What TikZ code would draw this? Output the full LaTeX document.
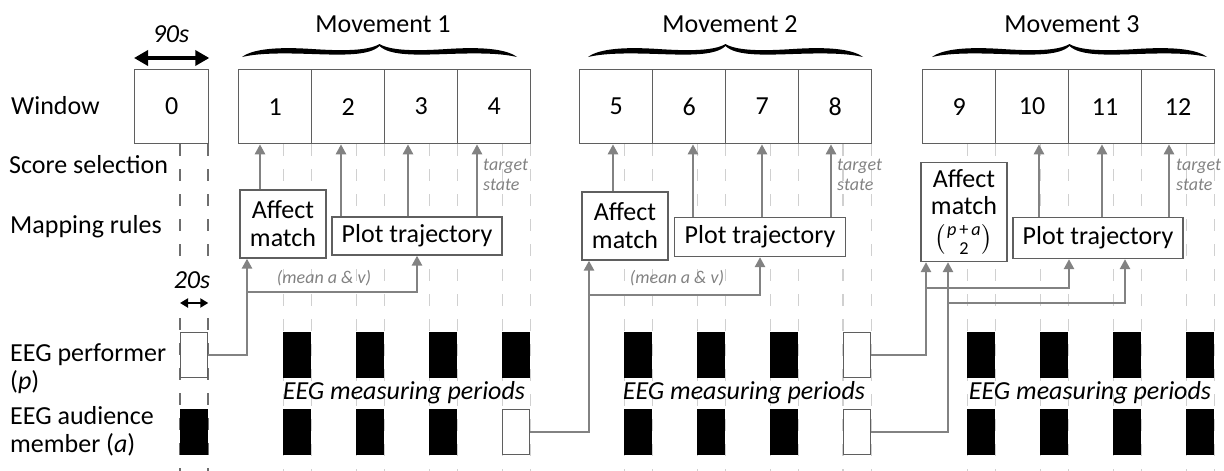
\documentclass[tikz,border=0pt]{standalone}
\usepackage{amsmath}
\usepackage{fontspec}
\setmainfont{Carlito}
\usetikzlibrary{arrows.meta,
           calc,
           positioning}
\pgfdeclarelayer{background}
\pgfsetlayers{background,main}
\definecolor{boxgrey}{RGB}{95,95,95}
\definecolor{flowgrey}{RGB}{130,130,130}
\definecolor{dashlight}{RGB}{208,208,208}
\definecolor{dashdark}{RGB}{110,110,110}
\newcommand{\bigtxt}{\fontsize{26}{28}\selectfont}
\newcommand{\smalltxt}{\fontsize{18}{20}\selectfont}
\tikzset{
  win/.style={draw=boxgrey,line width=1.3pt,minimum width=73pt,minimum height=74pt,
              anchor=north west,inner sep=0pt,font=\bigtxt},
  eegon/.style={draw=black,fill=black,line width=1pt,minimum width=27pt,minimum height=45pt,
                inner sep=0pt,anchor=north east},
  eegoff/.style={eegon,draw=boxgrey,fill=white,line width=1.3pt},
  rule/.style={draw=boxgrey,line width=1.3pt,fill=white,font=\bigtxt,align=center,inner sep=1pt},
  lbl/.style={anchor=base west,font=\bigtxt,align=left,inner sep=0pt},
  flow/.style={draw=flowgrey,line width=2.6pt,-{Triangle[width=10pt,length=10pt]}},
  guide/.style={dashlight,line width=1.4pt,dash pattern=on 12pt off 13pt},
  note/.style={font=\smalltxt\itshape,text=flowgrey,inner sep=0pt},
  pics/movbrace/.style={code={
    \fill (0,0) .. controls (12,-9) and (40,-10) .. (70,-8)
      .. controls (100,-6) and (126,-6) .. (137.5,-13)
      .. controls (149,-6) and (175,-6) .. (205,-8)
      .. controls (235,-10) and (263,-9) .. (275,0)
      .. controls (258,-4) and (235,-4) .. (205,-3)
      .. controls (175,-2) and (148,-1) .. (137.5,-11)
      .. controls (127,-1) and (100,-2) .. (70,-3)
      .. controls (40,-4) and (17,-4) .. (0,0) -- cycle;}},
}

\begin{document}
\begin{tikzpicture}[x=1pt,y=-1pt]
\useasboundingbox(0,0)rectangle(1224,471);
% windows
\node[win,minimum width=74pt](w0)at(134,69){0};
\foreach \i/\x in {1/238,2/311,3/384,4/457,5/579,6/652,7/725,8/798,9/922,10/995,11/1068,12/1141}
  \node[win](w\i)at(\x,69){\i};
% rows of EEG periods
\coordinate(rowp)at(0,332);
\coordinate(rowa)at(0,409);
\foreach \i/\s in {0/eegoff,1/eegon,2/eegon,3/eegon,4/eegon,5/eegon,6/eegon,7/eegon,8/eegoff,9/eegon,10/eegon,11/eegon,12/eegon}
  \node[\s](p\i)at($(w\i.east |- rowp)+(-1,0)$){};
\foreach \i/\s in {0/eegon,1/eegon,2/eegon,3/eegon,4/eegoff,5/eegon,6/eegon,7/eegon,8/eegoff,9/eegon,10/eegon,11/eegon,12/eegon}
  \node[\s](a\i)at($(w\i.east |- rowa)+(-1,0)$){};
% left labels
\node[lbl](lwin)at(11,114){Window};
\node[lbl](lsel)at(9,173){Score selection};
\node[lbl](lmap)at(10,233){Mapping rules};
\node[lbl](lper)at(10,389){EEG performer\\(\textit{p})};
\node[lbl](laud)at(10,452){EEG audience\\member (\textit{a})};
% movements
\pic at ([xshift=4pt,yshift=12pt]w1.north west){movbrace};
\pic at ([xshift=9pt,yshift=12pt]w5.north west){movbrace};
\pic at ([xshift=10pt,yshift=12pt]w9.north west){movbrace};
\node[font=\bigtxt,anchor=base](mov1)at(383,32){Movement 1};
\node[font=\bigtxt,anchor=base](mov2)at(730,32){Movement 2};
\node[font=\bigtxt,anchor=base](mov3)at(1072,32){Movement 3};
% durations
\node[font=\bigtxt\itshape,anchor=base](d90)at(171,42){90s};
\draw[line width=3.4pt,{Triangle[width=15pt,length=14pt]}-{Triangle[width=15pt,length=14pt]}]
  (w0.north west|-0,58)--(w0.north east|-0,58);
\node[font=\bigtxt\itshape,anchor=base](d20)at(192,288){20s};
\draw[line width=2.4pt,{Triangle[width=9pt,length=8pt]}-{Triangle[width=9pt,length=8pt]}]
  (p0.west|-0,303)--(p0.east|-0,303);
% mapping rules
\node[rule,minimum width=86pt,minimum height=68pt](am1)at(283,224){Affect\\match};
\node[rule,minimum width=170pt,minimum height=38pt](pt1)at(417,236){Plot trajectory};
\node[rule,minimum width=86pt,minimum height=68pt](am2)at(625,226){Affect\\match};
\node[rule,minimum width=171pt,minimum height=39pt](pt2)at(760,237){Plot trajectory};
\node[rule,minimum width=86pt,minimum height=99pt](am3)at(964,212)
  {Affect\\[-1pt]match\\[4pt]$\left(\genfrac{}{}{0pt}{1}{\textit{p}\,\text{+}\,\textit{a}}{\text{2}}\right)$};
\node[rule,minimum width=170pt,minimum height=41pt](pt3)at(1098,238){Plot trajectory};
% score selection
\draw[flow](am1.north -| 260,0)--(w1.south -| 260,0);
\draw[flow](pt1.north -| 341,0)--(w2.south -| 341,0);
\draw[flow](pt1.north -| 408,0)--(w3.south -| 408,0);
\draw[flow](pt1.north -| 477,0)--(w4.south -| 477,0);
\draw[flow](am2.north -| 613,0)--(w5.south -| 613,0);
\draw[flow](pt2.north -| 693,0)--(w6.south -| 693,0);
\draw[flow](pt2.north -| 762,0)--(w7.south -| 762,0);
\draw[flow](pt2.north -| 831,0)--(w8.south -| 831,0);
\draw[flow](pt3.north -| 1039,0)--(w10.south -| 1039,0);
\draw[flow](pt3.north -| 1102,0)--(w11.south -| 1102,0);
\draw[flow](pt3.north -| 1169,0)--(w12.south -| 1169,0);
\node[note,anchor=west,align=left](ts1)at(483,175){target\\state};
\node[note,anchor=west,align=left](ts2)at(837,175){target\\state};
\node[note,anchor=west,align=left](ts3)at(1176,175){target\\state};
% EEG to mapping rules
\coordinate(j1)at(247,292);
\draw[flow](p0.east)-|(am1.south -| j1);
\draw[flow](j1)-|(pt1.south);
\coordinate(j2)at(589,295);
\draw[flow](a4.east)-|(am2.south -| j2);
\draw[flow](j2)-|(pt2.south);
\coordinate(j3)at(926,288);
\coordinate(j4)at(948,303);
\draw[flow](p8.east)-|(am3.south -| j3);
\draw[flow](j3)-|(pt3.south -| 1069,0);
\draw[flow](a8.east)-|(am3.south -| j4);
\draw[flow](j4)-|(pt3.south -| 1125,0);
\node[note,anchor=base](mav1)at(324,283){(mean a \& v)};
\node[note,anchor=base](mav2)at(677,283){(mean a \& v)};
\node[font=\bigtxt\itshape,anchor=base](mp1)at(404,399){EEG measuring periods};
\node[font=\bigtxt\itshape,anchor=base](mp2)at(744,399){EEG measuring periods};
\node[font=\bigtxt\itshape,anchor=base](mp3)at(1090,399){EEG measuring periods};
% guide lines
\begin{pgfonlayer}{background}
\foreach \i in {1,...,12}{
  \draw[guide](p\i.west |- w\i.south)--(p\i.west |- 0,471);
  \draw[guide](p\i.east |- w\i.south)--(p\i.east |- 0,471);}
\draw[guide,dashdark,line width=2pt](p0.west |- w0.south)--(p0.west |- 0,258);
\draw[guide,dashdark,line width=2pt](p0.east |- w0.south)--(p0.east |- 0,258);
\draw[guide,dashdark,line width=2pt](p0.west |- 0,318)--(p0.west |- 0,471);
\draw[guide,dashdark,line width=2pt](p0.east |- 0,318)--(p0.east |- 0,471);
\end{pgfonlayer}
\end{tikzpicture}
\end{document}
